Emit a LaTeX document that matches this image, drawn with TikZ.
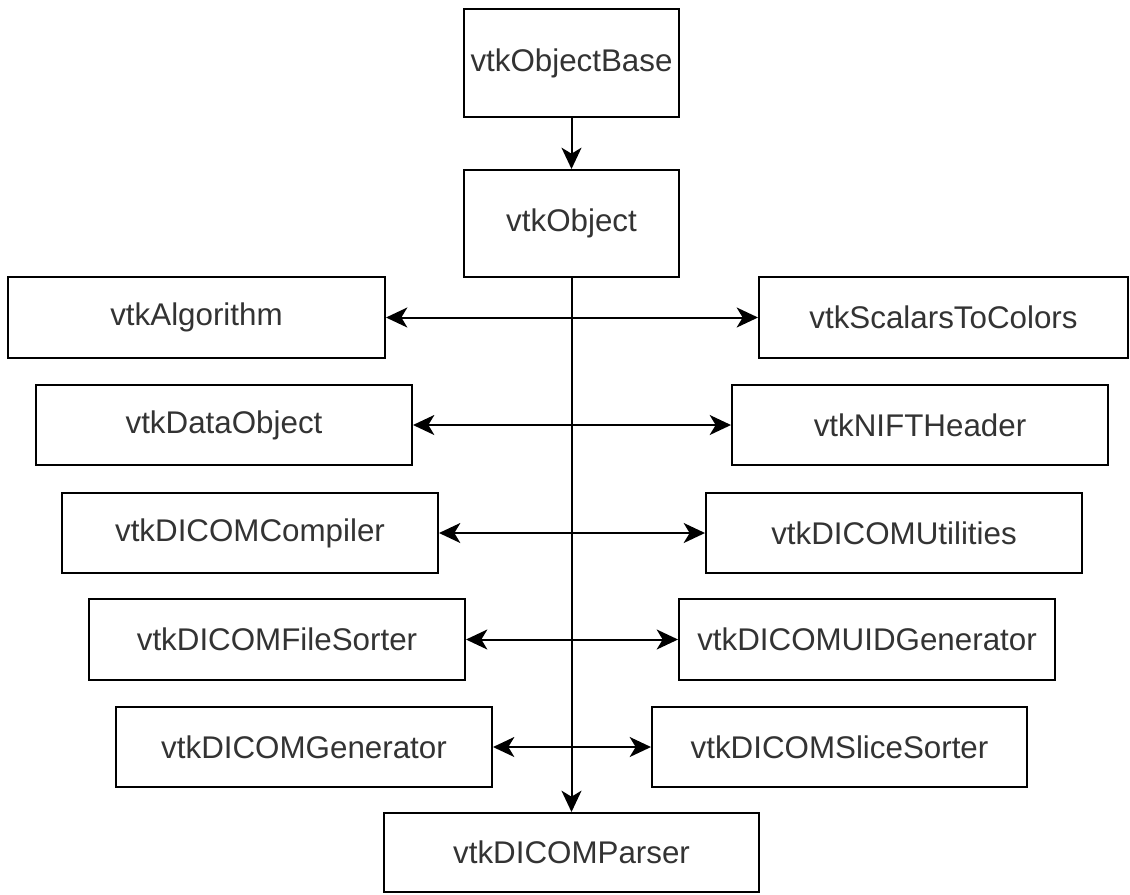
\documentclass[tikz,border=0pt]{standalone}
\usepackage{fontspec}
\setmainfont{Liberation Sans}
\usetikzlibrary{arrows.meta}
\definecolor{textgray}{HTML}{333333}
\begin{document}
\begin{tikzpicture}[x=0.75pt,y=-0.75pt,
  cls/.style 2 args={draw=black, line width=1.5pt, fill=white, inner sep=0pt,
    text=textgray, font=\fontsize{23.5}{27}\selectfont,
    minimum width=#1*0.75pt, minimum height=#2*0.75pt},
  tip/.tip={Stealth[length=16pt,width=15pt,inset=4.5pt]},
  link/.style={line width=1.5pt, -tip},
  both/.style={line width=1.5pt, tip-tip}]
\useasboundingbox (0,0) rectangle (1130,894);

% inheritance spine
\node[cls={215}{108}] (base) at (571.5,63) {vtkObjectBase};
\node[cls={215}{107}] (obj) at (571.5,223.5) {vtkObject};
\node[cls={375}{79}] (parser) at (571.5,852.5) {vtkDICOMParser};

% left column
\node[cls={377}{81}] (alg) at (196.5,317.5) {vtkAlgorithm};
\node[cls={376}{80}] (data) at (224,425) {vtkDataObject};
\node[cls={376}{80}] (comp) at (250,533) {vtkDICOMCompiler};
\node[cls={376}{81}] (fsort) at (277,639.5) {vtkDICOMFileSorter};
\node[cls={376}{80}] (gen) at (304,747) {vtkDICOMGenerator};

% right column
\node[cls={369}{81}] (s2c) at (943.5,317.5) {vtkScalarsToColors};
\node[cls={376}{80}] (nift) at (920,425) {vtkNIFTHeader};
\node[cls={376}{80}] (util) at (894,533) {vtkDICOMUtilities};
\node[cls={376}{81}] (uid) at (867,639.5) {vtkDICOMUIDGenerator};
\node[cls={375}{80}] (slice) at (839.5,747) {vtkDICOMSliceSorter};

% connectors
\draw[link] (base) -- (obj);
\draw[link] (obj) -- (parser);
\draw[both] (alg) -- (s2c);
\draw[both] (data) -- (nift);
\draw[both] (comp) -- (util);
\draw[both] (fsort) -- (uid);
\draw[both] (gen) -- (slice);
\end{tikzpicture}
\end{document}
